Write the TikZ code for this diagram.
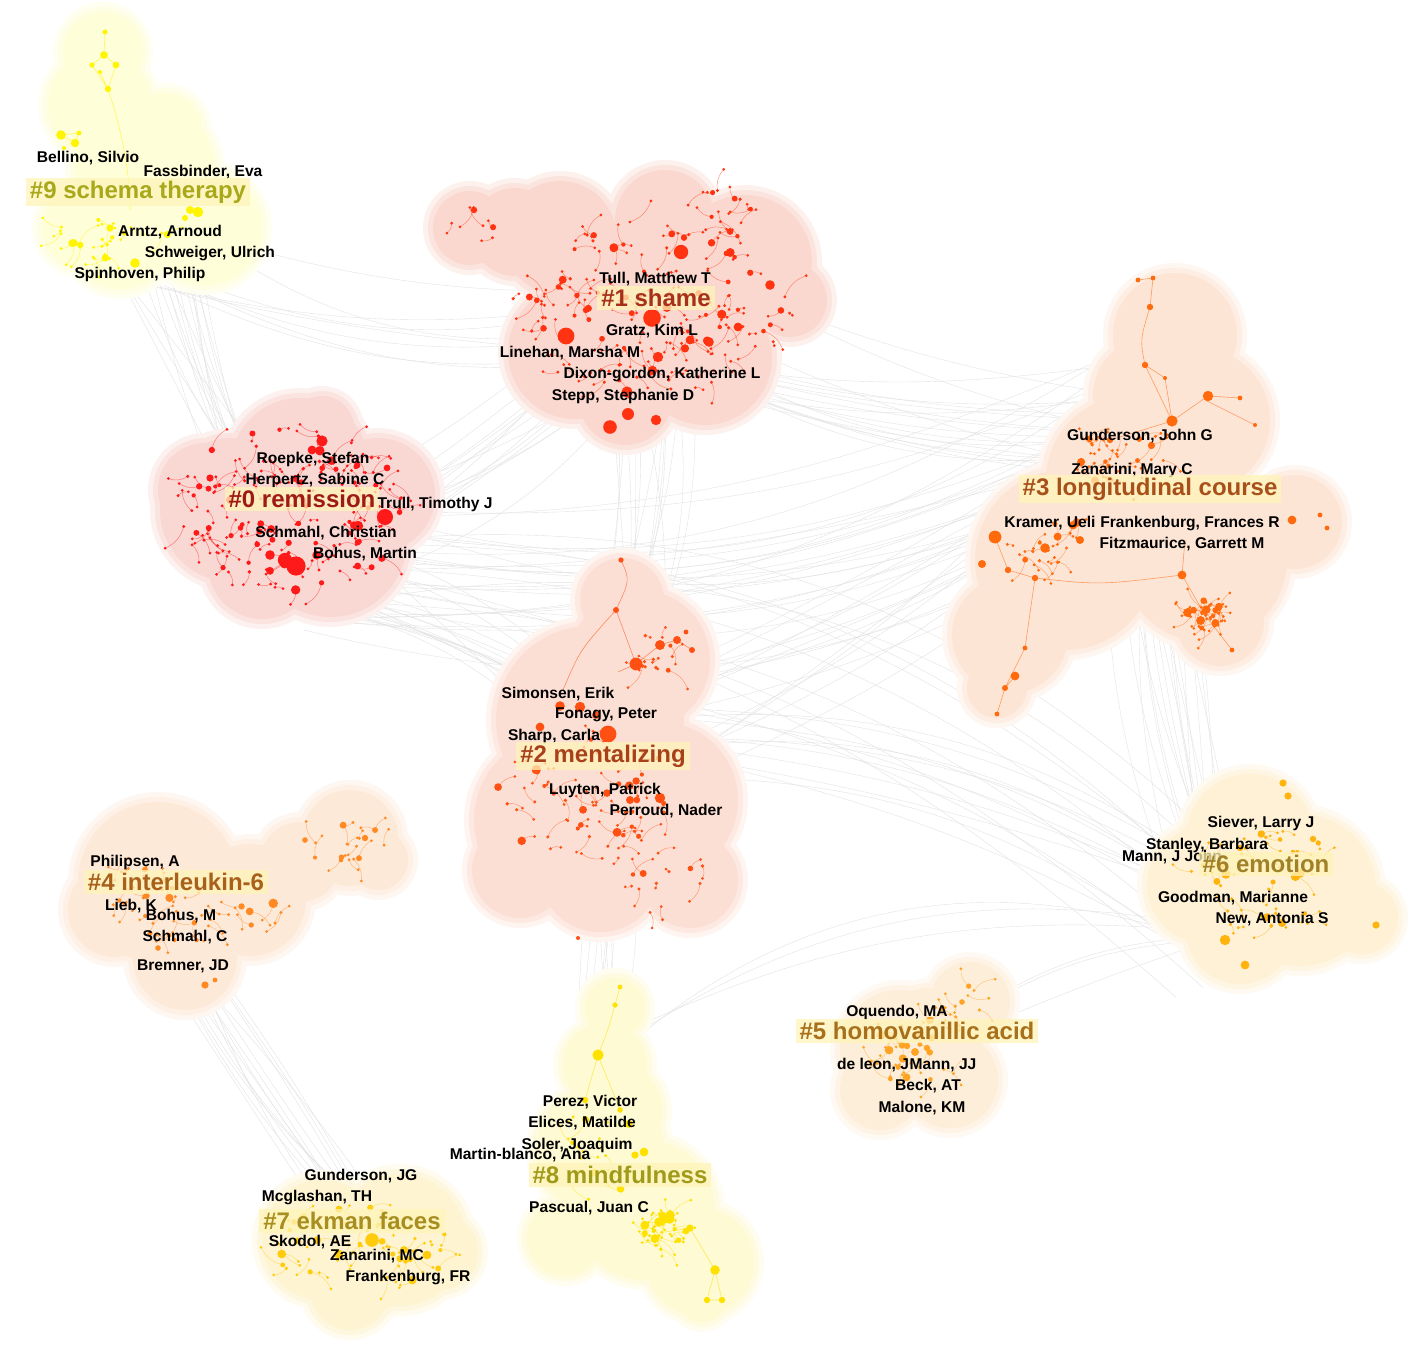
\documentclass[tikz,border=0pt]{standalone}
\usepackage{fontspec}
\setmainfont{Liberation Sans}
\usepackage{tikz}

\definecolor{blob0}{HTML}{F9D7D3}\definecolor{dot0}{HTML}{FF1A1A}\definecolor{lab0}{HTML}{9E1A14}
\definecolor{blob1}{HTML}{FAD8CF}\definecolor{dot1}{HTML}{FF3311}\definecolor{lab1}{HTML}{A8301A}
\definecolor{blob2}{HTML}{FCDFD4}\definecolor{dot2}{HTML}{FF5014}\definecolor{lab2}{HTML}{A8401A}
\definecolor{blob3}{HTML}{FDE5D6}\definecolor{dot3}{HTML}{FF6A0D}\definecolor{lab3}{HTML}{A8501A}
\definecolor{blob4}{HTML}{FDE9D8}\definecolor{dot4}{HTML}{FF8A24}\definecolor{lab4}{HTML}{A8601A}
\definecolor{blob5}{HTML}{FDEEDA}\definecolor{dot5}{HTML}{FFA324}\definecolor{lab5}{HTML}{A8701A}
\definecolor{blob6}{HTML}{FEF1D6}\definecolor{dot6}{HTML}{FFB30D}\definecolor{lab6}{HTML}{A08028}
\definecolor{blob7}{HTML}{FEF4D2}\definecolor{dot7}{HTML}{FFCC0D}\definecolor{lab7}{HTML}{A88E20}
\definecolor{blob8}{HTML}{FEFAD3}\definecolor{dot8}{HTML}{FFE100}\definecolor{lab8}{HTML}{A09A1A}
\definecolor{blob9}{HTML}{FEFED8}\definecolor{dot9}{HTML}{FFF500}\definecolor{lab9}{HTML}{A8A81A}
\definecolor{labbg}{HTML}{FFF4B8}

% soft cluster area from a list of circles x/y/r
\newcommand{\blobarea}[2]{%
  \foreach \x/\y/\r in {#2} \fill[#1!35!white] (\x,\y) circle ({\r+10});
  \foreach \x/\y/\r in {#2} \fill[#1!70!white] (\x,\y) circle ({\r+5});
  \foreach \x/\y/\r in {#2} \fill[#1] (\x,\y) circle (\r);
}

% random dots with short curved links, around a centre
\newcommand{\clusterdots}[7]{%
  \pgfmathsetseed{#7}
  \foreach \i in {1,...,#5}{
    \pgfmathsetmacro{\ang}{360*rnd}
    \pgfmathsetmacro{\rad}{sqrt(rnd)}
    \pgfmathsetmacro{\ax}{#1+#3*\rad*cos(\ang)}
    \pgfmathsetmacro{\ay}{#2+#4*\rad*sin(\ang)}
    \pgfmathsetmacro{\bx}{\ax+22*rand}
    \pgfmathsetmacro{\by}{\ay+22*rand}
    \pgfmathsetmacro{\ra}{0.8+1.6*rnd^4}
    \draw[#6, line width=0.25pt, opacity=0.5] (\ax,\ay) to[bend left=25] (\bx,\by);
    \fill[#6] (\ax,\ay) circle (\ra pt) (\bx,\by) circle (0.75pt);
  }}

% bundle of thin grey links between two clusters
\newcommand{\linkbundle}[5]{%
  \foreach \k in {1,...,#3}{
    \pgfmathsetmacro{\dxa}{#4*rand}\pgfmathsetmacro{\dya}{#4*rand}
    \pgfmathsetmacro{\dxb}{#4*rand}\pgfmathsetmacro{\dyb}{#4*rand}
    \pgfmathsetmacro{\bnd}{#5+10*rand}
    \draw[link] ([shift={(\dxa,\dya)}]#1) to[bend left=\bnd] ([shift={(\dxb,\dyb)}]#2);
  }}

\begin{document}
\begin{tikzpicture}[%
  x=0.5pt, y=-0.5pt,
  link/.style={draw=gray!22, line width=0.2pt},
  chain/.style={draw=#1, line width=0.3pt, opacity=0.6},
  author/.style={font=\fontsize{7.8}{9}\selectfont\bfseries, text=black, inner sep=0.5pt},
  clabel/.style={font=\fontsize{12}{14}\selectfont\bfseries, text=#1, fill=labbg,
    fill opacity=0.75, text opacity=1, inner xsep=2pt, inner ysep=1.5pt}
  ]
  \useasboundingbox (0,0) rectangle (1417,1344);
  \fill[white] (0,0) rectangle (1417,1344);

  %% Cluster hubs
  \coordinate (c0) at (296,566);
  \coordinate (c1) at (652,318);
  \coordinate (c2) at (608,734);
  \coordinate (c3) at (1150,418);
  \coordinate (c4) at (165,925);
  \coordinate (c5) at (915,1052);
  \coordinate (c6) at (1225,940);
  \coordinate (c7) at (372,1240);
  \coordinate (c8) at (598,1055);
  \coordinate (c9) at (150,250);

  %% Links between clusters
  \pgfmathsetseed{77}
  \linkbundle{c9}{c0}{18}{45}{-8}
  \linkbundle{c9}{c1}{8}{40}{-15}
  \linkbundle{c0}{c1}{14}{50}{-10}
  \linkbundle{c0}{c3}{22}{70}{-18}
  \linkbundle{c1}{c3}{18}{60}{-12}
  \linkbundle{c1}{c2}{14}{50}{8}
  \linkbundle{c0}{c2}{14}{50}{10}
  \linkbundle{c2}{c3}{14}{60}{-10}
  \linkbundle{c3}{c6}{18}{40}{-5}
  \linkbundle{c2}{c6}{12}{50}{15}
  \linkbundle{c0}{c6}{8}{60}{20}
  \linkbundle{c2}{c8}{10}{25}{5}
  \linkbundle{c4}{c7}{14}{25}{-5}
  \linkbundle{c6}{c8}{3}{20}{-25}
  \linkbundle{c6}{c5}{3}{20}{-10}

  %% Cluster areas
  \blobarea{blob9}{103/52/40, 100/105/52, 145/170/70, 120/235/54, 205/228/57, 82/228/40, 165/130/37}
  \blobarea{blob1}{470/228/37, 515/232/44, 560/238/57, 665/220/50, 745/262/67, 650/315/97,
    575/352/67, 705/358/67, 625/398/47, 790/300/37}
  \blobarea{blob0}{300/468/70, 232/510/72, 330/540/77, 262/565/54, 378/495/57, 322/428/32, 205/490/47}
  \blobarea{blob3}{1175/335/62, 1198/420/72, 1130/480/84, 1065/560/90, 1010/635/58, 997/688/30,
    1205/560/82, 1295/522/47, 1220/622/44, 1150/395/57}
  \blobarea{blob2}{622/600/42, 640/660/70, 590/720/94, 560/820/86, 660/800/78, 690/880/48,
    520/870/48, 600/870/62}
  \blobarea{blob4}{158/882/80, 185/958/52, 250/900/56, 300/862/40, 350/838/48, 378/860/30, 115/910/47}
  \blobarea{blob6}{1250/838/64, 1205/885/58, 1300/890/76, 1240/930/54, 1362/918/36, 1230/870/62}
  \blobarea{blob5}{900/1050/60, 970/1002/40, 950/1080/48, 880/1090/40, 930/1040/52}
  \blobarea{blob8}{615/1008/30, 605/1065/42, 600/1150/64, 645/1210/70, 700/1262/54,
    702/1298/24, 565/1238/38, 615/1110/47}
  \blobarea{blob7}{322/1240/60, 400/1240/66, 350/1290/40, 440/1252/38, 360/1265/52}

  %% Dots of each cluster
  \clusterdots{115}{235}{65}{28}{22}{dot9}{9}
  \clusterdots{650}{310}{140}{85}{110}{dot1}{11}
  \clusterdots{700}{215}{55}{35}{18}{dot1}{12}
  \clusterdots{475}{232}{25}{25}{5}{dot1}{13}
  \clusterdots{290}{510}{115}{82}{125}{dot0}{21}
  \clusterdots{1120}{455}{62}{30}{30}{dot3}{31}
  \clusterdots{1045}{540}{45}{30}{18}{dot3}{32}
  \clusterdots{1205}{615}{18}{15}{28}{dot3}{33}
  \clusterdots{585}{795}{90}{70}{50}{dot2}{41}
  \clusterdots{655}{655}{28}{22}{12}{dot2}{42}
  \clusterdots{665}{880}{45}{40}{12}{dot2}{43}
  \clusterdots{160}{905}{55}{50}{30}{dot4}{51}
  \clusterdots{350}{850}{38}{28}{15}{dot4}{52}
  \clusterdots{255}{912}{28}{18}{8}{dot4}{53}
  \clusterdots{1262}{880}{80}{55}{40}{dot6}{61}
  \clusterdots{912}{1052}{55}{38}{30}{dot5}{71}
  \clusterdots{962}{1000}{32}{18}{10}{dot5}{72}
  \clusterdots{665}{1232}{22}{18}{32}{dot8}{81}
  \clusterdots{600}{1150}{35}{55}{14}{dot8}{82}
  \clusterdots{360}{1248}{90}{42}{40}{dot7}{91}

  %% Chains and larger dots
  \draw[chain=dot9] (105,32) -- (104,55) -- (92,65) -- (108,89) -- (116,65) -- (104,55)
    (100,72) -- (108,89) .. controls (125,140) and (130,180) .. (130,210)
    (61,135) -- (79,133) -- (75,143) -- (61,135);
  \foreach \p/\r in {(105,32)/1.3,(104,55)/1.9,(92,65)/1.3,(116,65)/1.7,(100,72)/1,
    (108,89)/1.6,(61,135)/2.4,(79,133)/1.2,(75,143)/2.1,(64,148)/1,(198,212)/2.6,
    (190,210)/2,(135,263)/2.4,(110,228)/1.8,(185,218)/1.5}
    \fill[dot9] \p circle (\r pt);
  \draw[chain=dot3] (1138,280) -- (1153,278) -- (1150,307) .. controls (1140,340) .. (1145,365)
    -- (1172,421) (1145,365) -- (1165,378) -- (1172,421) -- (1208,396) -- (1240,398)
    (1172,421) -- (1110,440) (1205,400) -- (1255,425)
    (1035,578) -- (1025,648) -- (1005,688) -- (997,714) (1005,688) -- (1015,676)
    (995,537) -- (1008,570) -- (1035,578) .. controls (1100,585) .. (1182,575) -- (1205,615)
    (1182,575) -- (1185,540) (1205,615) -- (1232,650);
  \foreach \p/\r in {(1138,280)/1.2,(1153,278)/1.2,(1150,307)/1.6,(1145,365)/1.6,(1165,378)/1,
    (1172,421)/2.8,(1208,396)/2.6,(1240,398)/1.2,(1255,425)/1,(1110,440)/1.6,(995,537)/3.2,
    (982,564)/2,(1008,570)/1.6,(1035,578)/1.6,(1025,648)/1.2,(1015,676)/2.2,(1005,688)/1.5,
    (997,714)/1.2,(1182,575)/2.2,(1232,650)/1.2,(1292,520)/2.2,(1320,515)/1.2,(1327,528)/1.2,
    (1045,548)/2.4,(1080,540)/2}
    \fill[dot3] \p circle (\r pt);
  \draw[chain=dot2] (621,560) .. controls (630,580) .. (616,610) .. controls (580,650) .. (563,690)
    (616,610) -- (636,664) -- (660,645) -- (677,640) -- (692,650) (636,664) -- (618,672);
  \foreach \p/\r in {(621,560)/1.3,(616,610)/1.5,(636,664)/3.2,(660,645)/2.5,(677,640)/2,
    (692,650)/1.5,(686,632)/1.2,(608,734)/4.2,(580,707)/2.6,(560,706)/2.4,(540,727)/2.2,
    (596,715)/2,(660,798)/2.6,(630,800)/2,(578,938)/1}
    \fill[dot2] \p circle (\r pt);
  \draw[chain=dot8] (620,987) -- (615,1005) .. controls (608,1030) .. (598,1055)
    -- (585,1100) (598,1055) -- (620,1110) (665,1232) -- (690,1228) -- (715,1270)
    -- (707,1300) (715,1270) -- (722,1300) -- (707,1300);
  \foreach \p/\r in {(620,987)/1.2,(615,1005)/1.3,(598,1055)/2.8,(585,1100)/1.6,(620,1110)/1.4,
    (690,1228)/1.8,(715,1270)/2.4,(707,1300)/1.6,(722,1300)/1.6,(644,1152)/2.2,(635,1155)/1.8}
    \fill[dot8] \p circle (\r pt);
  \foreach \p/\r in {(566,336)/4.2,(681,252)/3.6,(652,318)/4.4,(610,427)/3.4,(628,414)/3,
    (656,420)/2.6,(738,327)/2.2,(770,285)/2.4,(709,342)/2.4,(474,210)/1.6,(627,392)/2.8,
    (658,357)/2.6,(690,340)/2.2}
    \fill[dot1] \p circle (\r pt);
  \foreach \p/\r in {(296,566)/4.8,(285,560)/3.6,(385,517)/4,(322,441)/2.8,(312,450)/2.2,
    (358,526)/2.6,(270,555)/2.4,(230,500)/2,(210,478)/1.8}
    \fill[dot0] \p circle (\r pt);
  \foreach \p/\r in {(205,985)/1.8,(215,980)/1.2,(305,840)/1.4,(365,838)/1.6,(158,948)/1.4}
    \fill[dot4] \p circle (\r pt);
  \foreach \p/\r in {(1225,940)/2.6,(1245,965)/2.2,(1282,923)/2,(1240,848)/1.6,(1283,783)/1.8,
    (1288,796)/1.8,(1376,925)/1.8,(1313,839)/1.6}
    \fill[dot6] \p circle (\r pt);
  \foreach \p/\r in {(915,1052)/2,(927,1048)/1.6,(907,1046)/1.6,(962,1002)/1.4}
    \fill[dot5] \p circle (\r pt);
  \foreach \p/\r in {(372,1240)/3.4,(404,1250)/2,(427,1255)/2.2,(294,1222)/1.4}
    \fill[dot7] \p circle (\r pt);

  %% Labels, cluster #9
  \node[author] (bellino) at (88,158) {Bellino, Silvio};
  \node[author] (fassbinder) at (203,172) {Fassbinder, Eva};
  \node[clabel=lab9] (l9) at (138,192) {\#9 schema therapy};
  \node[author] (arntz) at (170,232) {Arntz, Arnoud};
  \node[author] (schweiger) at (210,253) {Schweiger, Ulrich};
  \node[author] (spinhoven) at (140,274) {Spinhoven, Philip};

  %% Labels, cluster #1
  \node[author] (tull) at (655,279) {Tull, Matthew T};
  \node[clabel=lab1] (l1) at (656,298) {\#1 shame};
  \node[author] (gratz) at (652,331) {Gratz, Kim L};
  \node[author] (linehan) at (570,353) {Linehan, Marsha M};
  \node[author] (dixon) at (662,374) {Dixon-gordon, Katherine L};
  \node[author] (stepp) at (623,396) {Stepp, Stephanie D};

  %% Labels, cluster #0
  \node[author] (roepke) at (313,459) {Roepke, Stefan};
  \node[author] (herpertz) at (315,480) {Herpertz, Sabine C};
  \node[clabel=lab0] (l0) at (302,499) {\#0 remission};
  \node[author] (trullt) at (435,504) {Trull, Timothy J};
  \node[author] (schmahlc) at (326,533) {Schmahl, Christian};
  \node[author] (bohusm) at (365,554) {Bohus, Martin};

  %% Labels, cluster #3
  \node[author] (gundersonj) at (1140,436) {Gunderson, John G};
  \node[author] (zanarinim) at (1132,470) {Zanarini, Mary C};
  \node[clabel=lab3] (l3) at (1150,489) {\#3 longitudinal course};
  \node[author] (kramer) at (1050,523) {Kramer, Ueli};
  \node[author] (frankenburgf) at (1190,523) {Frankenburg, Frances R};
  \node[author] (fitzmaurice) at (1182,544) {Fitzmaurice, Garrett M};

  %% Labels, cluster #2
  \node[author] (simonsen) at (558,694) {Simonsen, Erik};
  \node[author] (fonagy) at (606,715) {Fonagy, Peter};
  \node[author] (sharp) at (554,736) {Sharp, Carla};
  \node[clabel=lab2] (l2) at (603,756) {\#2 mentalizing};
  \node[author] (luyten) at (605,790) {Luyten, Patrick};
  \node[author] (perroud) at (666,811) {Perroud, Nader};

  %% Labels, cluster #4
  \node[author] (philipsen) at (135,862) {Philipsen, A};
  \node[clabel=lab4] (l4) at (176,882) {\#4 interleukin-6};
  \node[author] (lieb) at (131,906) {Lieb, K};
  \node[author] (bohus) at (181,916) {Bohus, M};
  \node[author] (schmahl) at (185,937) {Schmahl, C};
  \node[author] (bremner) at (183,966) {Bremner, JD};

  %% Labels, cluster #6
  \node[author] (siever) at (1261,823) {Siever, Larry J};
  \node[author] (stanley) at (1207,845) {Stanley, Barbara};
  \node[author] (mannj) at (1172,857) {Mann, J John};
  \node[clabel=lab6] (l6) at (1266,864) {\#6 emotion};
  \node[author] (goodman) at (1233,898) {Goodman, Marianne};
  \node[author] (new) at (1272,919) {New, Antonia S};

  %% Labels, cluster #5
  \node[author] (oquendo) at (897,1012) {Oquendo, MA};
  \node[clabel=lab5] (l5) at (917,1031) {\#5 homovanillic acid};
  \node[author] (deleon) at (873,1065) {de leon, J};
  \node[author] (mann) at (943,1065) {Mann, JJ};
  \node[author] (beck) at (928,1086) {Beck, AT};
  \node[author] (malone) at (922,1108) {Malone, KM};

  %% Labels, cluster #8
  \node[author] (perez) at (590,1102) {Perez, Victor};
  \node[author] (elices) at (582,1123) {Elices, Matilde};
  \node[author] (soler) at (577,1145) {Soler, Joaquim};
  \node[author] (martin) at (520,1155) {Martin-blanco, Ana};
  \node[clabel=lab8] (l8) at (620,1175) {\#8 mindfulness};
  \node[author] (pascual) at (589,1208) {Pascual, Juan C};

  %% Labels, cluster #7
  \node[author] (gundersonjg) at (361,1176) {Gunderson, JG};
  \node[author] (mcglashan) at (317,1197) {Mcglashan, TH};
  \node[clabel=lab7] (l7) at (352,1221) {\#7 ekman faces};
  \node[author] (skodol) at (310,1242) {Skodol, AE};
  \node[author] (zanarini) at (377,1256) {Zanarini, MC};
  \node[author] (frankenburg) at (408,1277) {Frankenburg, FR};
\end{tikzpicture}
\end{document}
